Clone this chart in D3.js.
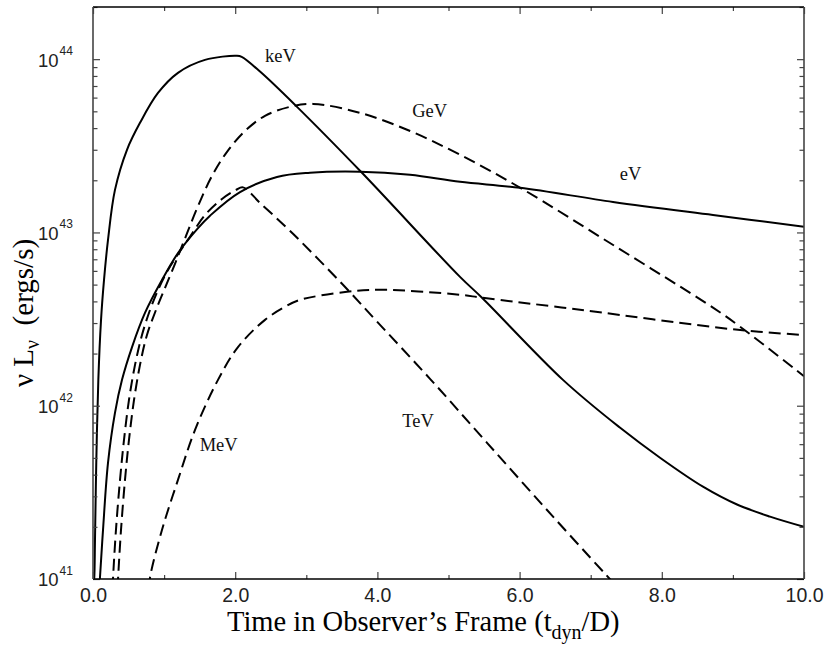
<!DOCTYPE html>
<html>
<head>
<meta charset="utf-8">
<script src="https://cdn.jsdelivr.net/npm/d3@7"></script>
<style>
  body { margin: 0; background: #fff; }
  svg { display: block; }
</style>
</head>
<body>
<svg id="chart" width="827" height="650"></svg>
<script>
// Light curves: [time (t_dyn/D), nu L_nu (ergs/s)]
const keV = [[0.0, 8.5e40], [0.017, 1.00e41], [0.028, 1.68e41], [0.046, 4.68e41], [0.075, 1.41e42],
  [0.113, 3.13e42], [0.155, 5.32e42], [0.211, 9.06e42], [0.309, 1.76e43], [0.478, 3.00e43],
  [0.661, 4.29e43], [0.914, 6.38e43], [1.195, 8.34e43], [1.575, 9.91e43], [2.025, 1.045e44],
  [2.091, 1.03e44], [2.349, 8.48e43], [2.841, 5.45e43], [3.783, 2.21e43], [5.162, 5.54e42],
  [5.471, 4.20e42], [6.61, 1.41e42], [7.41, 7.48e41], [7.975, 5.01e41], [8.579, 3.41e41],
  [9.058, 2.69e41], [9.522, 2.29e41], [10.0, 2.00e41]];

const eV = [[0.09, 8.8e40], [0.098, 1.02e41], [0.141, 1.92e41], [0.211, 4.68e41], [0.309, 9.10e41],
  [0.408, 1.41e42], [0.549, 2.18e42], [0.731, 3.43e42], [0.970, 5.31e42], [1.195, 7.60e42],
  [1.477, 1.06e43], [1.646, 1.25e43], [2.068, 1.71e43], [2.588, 2.09e43], [3.052, 2.21e43],
  [3.755, 2.24e43], [4.459, 2.15e43], [5.162, 1.96e43], [6.006, 1.81e43], [7.314, 1.50e43],
  [8.72, 1.26e43], [10.0, 1.08e43]];

const GeV = [[0.345, 8.8e40], [0.352, 1.00e41], [0.394, 1.92e41], [0.450, 3.73e41], [0.506, 6.35e41],
  [0.577, 1.08e42], [0.661, 1.72e42], [0.759, 2.56e42], [0.886, 3.57e42], [1.013, 4.79e42],
  [1.153, 6.59e42], [1.308, 9.55e42], [1.477, 1.42e43], [1.674, 2.12e43], [1.885, 2.92e43],
  [2.138, 3.85e43], [2.419, 4.71e43], [2.771, 5.31e43], [3.094, 5.52e43], [3.755, 4.90e43],
  [4.46, 3.85e43], [5.16, 2.81e43], [6.01, 1.81e43], [7.31, 8.49e42], [8.72, 3.68e42],
  [9.10, 2.86e42], [10.0, 1.48e42]];

const TeV = [[0.275, 8.8e40], [0.281, 1.00e41], [0.323, 1.92e41], [0.380, 3.73e41], [0.436, 6.35e41],
  [0.506, 1.08e42], [0.591, 1.72e42], [0.689, 2.56e42], [0.802, 3.57e42], [0.928, 4.79e42],
  [1.055, 6.08e42], [1.181, 7.33e42], [1.364, 9.44e42], [1.575, 1.26e43], [1.814, 1.56e43],
  [2.011, 1.76e43], [2.110, 1.82e43], [2.349, 1.48e43], [2.813, 9.82e42], [3.516, 4.99e42],
  [4.037, 2.93e42], [4.740, 1.43e42], [5.542, 6.11e41], [6.470, 2.29e41], [7.314, 9.55e40]];

const MeV = [[0.79, 8.8e40], [0.802, 1.02e41], [0.970, 1.92e41], [1.195, 3.73e41], [1.435, 7.25e41],
  [1.758, 1.41e42], [2.039, 2.18e42], [2.419, 3.13e42], [2.700, 3.72e42], [2.911, 4.08e42],
  [3.572, 4.54e42], [4.037, 4.67e42], [5.162, 4.37e42], [5.471, 4.20e42], [6.85, 3.58e42],
  [9.072, 2.74e42], [10.0, 2.56e42]];

const seriesNames = ["keV", "eV", "GeV", "TeV", "MeV"];
const seriesData = [keV, eV, GeV, TeV, MeV];
const seriesDashed = [false, false, true, true, true];

// Where each band name is written, in data units
const labelTimes = [2.42, 7.41, 4.49, 4.35, 1.50];
const labelLums  = [9.65e43, 2.0e43, 4.65e43, 7.55e41, 5.5e41];

const xMajorTicks = [0, 2, 4, 6, 8, 10];
const xMinorTicks = [1, 3, 5, 7, 9];
const yDecades = [1e41, 1e42, 1e43, 1e44];
const yExponents = ["41", "42", "43", "44"];

const svg = d3.select("#chart");
const frame = { left: 93, right: 804, top: 7, bottom: 579 };

const x = d3.scaleLinear().domain([0, 10]).range([frame.left, frame.right]);
const y = d3.scaleLog().domain([1e41, 2e44]).range([frame.bottom, frame.top]);

svg.append("defs").append("clipPath").attr("id", "plotClip")
  .append("rect")
  .attr("x", frame.left).attr("y", frame.top)
  .attr("width", frame.right - frame.left).attr("height", frame.bottom - frame.top);

// Curves (Catmull-Rom so the near-vertical rises stay smooth)
const line = d3.line()
  .x(d => x(d[0]))
  .y(d => y(d[1]))
  .curve(d3.curveCatmullRom.alpha(0.5));

const curves = svg.append("g").attr("clip-path", "url(#plotClip)");
seriesData.forEach((data, i) => {
  curves.append("path")
    .datum(data)
    .attr("d", line)
    .attr("fill", "none")
    .attr("stroke", "#000")
    .attr("stroke-width", 2)
    .attr("stroke-dasharray", seriesDashed[i] ? "12,6" : null);
});

// Ticks (all pointing into the plot)
const tickStroke = "#444";
function styleTicks(g) {
  g.select(".domain").remove();
  g.selectAll(".tick line").attr("stroke", tickStroke).attr("stroke-width", 1.2);
}

const tickFont = "'Liberation Sans', Arial, sans-serif";

svg.append("g")
  .attr("transform", `translate(0,${frame.bottom})`)
  .call(d3.axisBottom(x).tickValues(xMajorTicks).tickSize(-7).tickPadding(9)
    .tickFormat(d3.format(".1f")))
  .call(styleTicks)
  .call(g => g.selectAll("text")
    .attr("font-family", tickFont).attr("font-size", 19.5).attr("fill", "#222"));

svg.append("g")
  .attr("transform", `translate(0,${frame.bottom})`)
  .call(d3.axisBottom(x).tickValues(xMinorTicks).tickSize(-4).tickFormat(""))
  .call(styleTicks);

svg.append("g")
  .attr("transform", `translate(0,${frame.top})`)
  .call(d3.axisTop(x).tickValues(xMajorTicks).tickSize(-7).tickFormat(""))
  .call(styleTicks);

svg.append("g")
  .attr("transform", `translate(0,${frame.top})`)
  .call(d3.axisTop(x).tickValues(xMinorTicks).tickSize(-4).tickFormat(""))
  .call(styleTicks);

const yMinor = y.ticks().filter(v => !yDecades.some(d => Math.abs(v / d - 1) < 1e-6));

[[d3.axisLeft, frame.left], [d3.axisRight, frame.right]].forEach(([axisFn, pos]) => {
  svg.append("g")
    .attr("transform", `translate(${pos},0)`)
    .call(axisFn(y).tickValues(yDecades).tickSize(-7).tickFormat(""))
    .call(styleTicks);
  svg.append("g")
    .attr("transform", `translate(${pos},0)`)
    .call(axisFn(y).tickValues(yMinor).tickSize(-4.5).tickFormat(""))
    .call(styleTicks);
});

// Decade labels 10^n
const yLabels = svg.append("g")
  .attr("font-family", tickFont).attr("fill", "#222");
yDecades.forEach((v, i) => {
  const t = yLabels.append("text")
    .attr("x", 38).attr("y", y(v) + 7.4)
    .attr("font-size", 18.5);
  t.append("tspan").text("10");
  t.append("tspan")
    .attr("font-size", 12)
    .attr("dy", -11.5)
    .attr("dx", 1)
    .text(yExponents[i]);
});

// Frame
svg.append("line").attr("x1", frame.left).attr("x2", frame.right)
  .attr("y1", frame.top).attr("y2", frame.top).attr("stroke", "#000").attr("stroke-width", 1.5);
svg.append("line").attr("x1", frame.left).attr("x2", frame.right)
  .attr("y1", frame.bottom).attr("y2", frame.bottom).attr("stroke", "#000").attr("stroke-width", 1.6);
svg.append("line").attr("x1", frame.left).attr("x2", frame.left)
  .attr("y1", frame.top).attr("y2", frame.bottom).attr("stroke", "#444").attr("stroke-width", 1.6);
svg.append("line").attr("x1", frame.right).attr("x2", frame.right)
  .attr("y1", frame.top).attr("y2", frame.bottom).attr("stroke", "#444").attr("stroke-width", 1.6);

// Band names
const serif = "'Liberation Serif', 'Times New Roman', serif";
svg.append("g")
  .attr("font-family", serif).attr("font-size", 18.5).attr("fill", "#111")
  .selectAll("text")
  .data(seriesNames)
  .join("text")
  .attr("x", (d, i) => x(labelTimes[i]))
  .attr("y", (d, i) => y(labelLums[i]))
  .text(d => d);

// Axis titles
const xTitle = svg.append("text")
  .attr("x", 227).attr("y", 631)
  .attr("font-family", serif).attr("font-size", 28.5).attr("fill", "#000");
xTitle.append("tspan").text("Time in Observer\u2019s Frame (t");
xTitle.append("tspan").attr("font-size", 20).attr("dy", 8).text("dyn");
xTitle.append("tspan").attr("dy", -8).text("/D)");

const yTitle = svg.append("text")
  .attr("transform", "translate(33,387) rotate(-90)")
  .attr("font-family", serif).attr("font-size", 29).attr("fill", "#000");
yTitle.append("tspan").text("\u03bd L");
yTitle.append("tspan").attr("font-size", 20).attr("dy", 6).text("\u03bd");
yTitle.append("tspan").attr("dy", -6).text("\u00a0\u00a0(ergs/s)");
</script>
</body>
</html>
